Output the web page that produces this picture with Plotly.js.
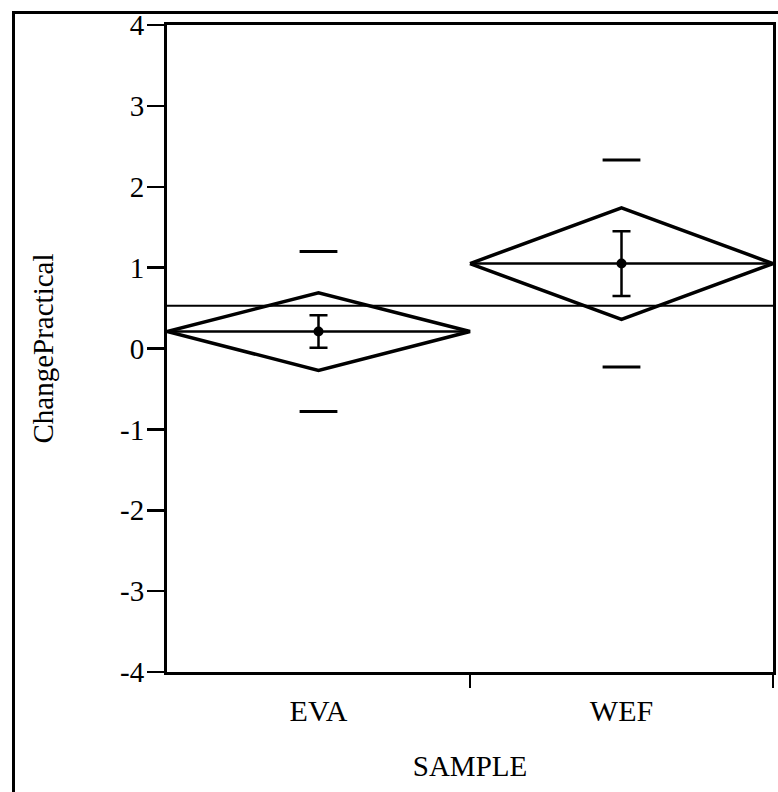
<!DOCTYPE html>
<html>
<head>
<meta charset="utf-8">
<script src="https://cdn.plot.ly/plotly-3.0.1.min.js"></script>
<style>
  html, body { margin: 0; padding: 0; background: #fff; }
  #wrap { position: relative; width: 778px; height: 792px; overflow: hidden; }
  #chart { position: absolute; left: 0; top: 0; width: 778px; height: 792px; }
  #frame { position: absolute; left: 12px; top: 11px; width: 800px; height: 800px;
           border-left: 3px solid #000; border-top: 3px solid #000; pointer-events: none; }
</style>
</head>
<body>
<div id="wrap">
  <div id="chart"></div>
  <div id="frame"></div>
</div>
<script>
// ---- data ----
const samples = ['EVA', 'WEF'];
const means = [0.21, 1.05];        // group means
const ciHalf = [0.48, 0.69];       // means-diamond half height (95% CI)
const seHalf = [0.20, 0.40];       // error bar half length
const sdHalf = [0.99, 1.28];       // std-dev dash offsets
const grandMean = [0.53];          // overall mean line
const yTicks = [-4, -3, -2, -1, 0, 1, 2, 3, 4];
const yTickText = ['-4', '-3', '-2', '-1', '0', '1', '2', '3', '4'];

const serif = "'Liberation Serif', 'Times New Roman', serif";
const idx = samples.map((_, i) => i);
const traces = [];

// diamonds and mean lines
samples.forEach((s, i) => {
  traces.push({
    type: 'scatter', mode: 'lines', hoverinfo: 'skip', showlegend: false,
    x: [i - 0.5, i, i + 0.5, i, i - 0.5],
    y: [means[i], means[i] + ciHalf[i], means[i], means[i] - ciHalf[i], means[i]],
    line: { color: '#000', width: 3.5 }
  });
  traces.push({
    type: 'scatter', mode: 'lines', hoverinfo: 'skip', showlegend: false,
    x: [i - 0.5, i + 0.5], y: [means[i], means[i]],
    line: { color: '#000', width: 2.5 }
  });
});

// std dev dashes
traces.push({
  type: 'scatter', mode: 'markers', showlegend: false,
  x: idx.concat(idx),
  y: means.map((m, i) => m + sdHalf[i]).concat(means.map((m, i) => m - sdHalf[i])),
  marker: { symbol: 'line-ew', size: 27, line: { color: '#000', width: 3 } }
});

// means with error bars
traces.push({
  type: 'scatter', mode: 'markers', showlegend: false,
  x: idx, y: means,
  marker: { symbol: 'circle', size: 10, color: '#000' },
  error_y: { type: 'data', array: seHalf, visible: true, color: '#000', thickness: 2.5, width: 9 }
});

// grand mean line (on overlay axis with boundary ticks)
traces.push({
  type: 'scatter', mode: 'lines', showlegend: false, hoverinfo: 'skip',
  x: [-0.5, samples.length - 0.5], y: [grandMean[0], grandMean[0]],
  xaxis: 'x2',
  line: { color: '#000', width: 2 }
});

const layout = {
  width: 778, height: 792,
  margin: { l: 167, r: 5, t: 25, b: 120 },
  paper_bgcolor: '#fff', plot_bgcolor: '#fff',
  showlegend: false,
  font: { family: serif, color: '#000', size: 26 },
  xaxis: {
    range: [-0.5, samples.length - 0.5],
    tickvals: idx, ticktext: samples,
    ticks: '', showgrid: false, zeroline: false,
    showline: true, mirror: true, linecolor: '#000', linewidth: 3,
    ticklabelstandoff: 10,
    tickfont: { family: serif, size: 30 },
    title: { text: 'SAMPLE', font: { family: serif, size: 29 }, standoff: 30 }
  },
  xaxis2: {
    overlaying: 'x', anchor: 'y',
    range: [-0.5, samples.length - 0.5],
    tickvals: idx.map(i => i + 0.5),
    ticks: 'outside', ticklen: 15, tickwidth: 2.5, tickcolor: '#000',
    showticklabels: false, showgrid: false, zeroline: false, showline: false
  },
  yaxis: {
    range: [-4, 4],
    tickvals: yTicks, ticktext: yTickText,
    ticks: 'outside', ticklen: 17, tickwidth: 2.5, tickcolor: '#000',
    ticklabelstandoff: -3,
    showgrid: false, zeroline: false,
    showline: true, mirror: true, linecolor: '#000', linewidth: 3,
    tickfont: { family: serif, size: 29 },
    title: { text: 'ChangePractical', font: { family: serif, size: 29 }, standoff: 58 }
  }
};

Plotly.newPlot('chart', traces, layout, { displayModeBar: false, staticPlot: true });
</script>
</body>
</html>
